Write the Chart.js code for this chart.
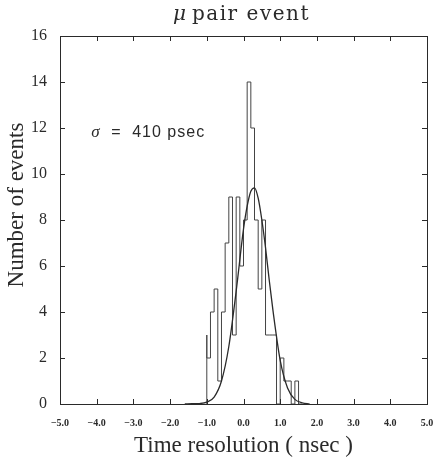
<!DOCTYPE html>
<html>
<head>
<meta charset="utf-8">
<script src="https://cdn.jsdelivr.net/npm/chart.js@4.4.1/dist/chart.umd.min.js"></script>
<style>
  html, body { margin: 0; padding: 0; background: #ffffff; }
  canvas { display: block; }
</style>
</head>
<body>
<canvas id="c" width="433" height="460"></canvas>
<script>
// ---- data ----
// left edges of the 0.1 ns histogram bins, and the counts in each bin
const binLeftEdges = [-1.0,-0.9,-0.8,-0.7,-0.6,-0.5,-0.4,-0.3,-0.2,-0.1,
                      0.0,0.1,0.2,0.3,0.4,0.5,0.6,0.7,0.8,0.9,
                      1.0,1.1,1.2,1.3,1.4,1.5];
const binWidth = 0.1;
const counts = [3,2,4,5,1,4,7,9,3,9,
                6,8,14,12,8,5,8,3,3,3,
                0,2,1,1,0,1];
// fitted gaussian curve
const fitX = [-1.6,-1.4,-1.2,-1.0,-0.8,-0.6,-0.4,-0.2,0.0,0.1,0.2,0.3,0.4,0.5,0.6,0.7,0.8,1.0,1.2,1.4,1.6,1.8];
const fitY = [0,0.01,0.02,0.08,0.3,1.0,2.5,4.9,7.6,8.6,9.25,9.4,8.95,8.0,6.8,5.4,4.1,1.9,0.7,0.2,0.05,0];
const xTickValues = [-5,-4,-3,-2,-1,0,1,2,3,4,5];
const yTickValues = [0,2,4,6,8,10,12,14,16];
const titleGreek = 'μ';
const titleText = 'pair event';
const xTitle = 'Time resolution ( nsec )';
const yTitle = 'Number of events';
const noteGreek = 'σ';
const noteEq = '=';
const noteValue = '410 psec';

const INK = '#2a2a2a';

// histogram outline built from the bin arrays
const histPoints = [{ x: binLeftEdges[0], y: 0 }];
binLeftEdges.forEach((e, i) => histPoints.push({ x: e, y: counts[i] }));
histPoints.push({ x: binLeftEdges[binLeftEdges.length - 1] + binWidth, y: 0 });

const decorPlugin = {
  id: 'decor',
  afterDatasetsDraw(chart) {
    const ctx = chart.ctx;
    const a = chart.chartArea;
    const xs = chart.scales.x, ys = chart.scales.y;
    ctx.save();
    ctx.strokeStyle = INK;
    ctx.lineWidth = 1;
    ctx.strokeRect(Math.round(a.left) + 0.5, Math.round(a.top) + 0.5,
                   Math.round(a.right - a.left), Math.round(a.bottom - a.top));
    ctx.beginPath();
    xTickValues.forEach(v => {
      const px = Math.round(xs.getPixelForValue(v)) + 0.5;
      ctx.moveTo(px, a.bottom); ctx.lineTo(px, a.bottom - 5);
      ctx.moveTo(px, a.top); ctx.lineTo(px, a.top + 5);
    });
    yTickValues.forEach(v => {
      const py = Math.round(ys.getPixelForValue(v)) + 0.5;
      ctx.moveTo(a.left, py); ctx.lineTo(a.left + 5, py);
      ctx.moveTo(a.right, py); ctx.lineTo(a.right - 5, py);
    });
    ctx.stroke();
    ctx.restore();
  },
  afterDraw(chart) {
    const ctx = chart.ctx;
    const xs = chart.scales.x, ys = chart.scales.y;
    const hasLS = ('letterSpacing' in ctx);
    ctx.save();
    ctx.fillStyle = INK;
    ctx.textBaseline = 'alphabetic';
    // title
    ctx.textAlign = 'left';
    ctx.font = 'italic 20px "DejaVu Serif"';
    ctx.fillText(titleGreek, 173, 20);
    ctx.font = '20px "DejaVu Serif"';
    if (hasLS) ctx.letterSpacing = '1.5px';
    ctx.fillText(titleText, 192, 20);
    if (hasLS) ctx.letterSpacing = '0px';
    // note
    const nx = xs.getPixelForValue(-4.15);
    const ny = ys.getPixelForValue(11.6);
    ctx.font = 'italic 17px "Liberation Serif"';
    ctx.fillText(noteGreek, nx, ny);
    ctx.font = '16px "Liberation Sans"';
    ctx.fillText(noteEq, nx + 20, ny);
    if (hasLS) ctx.letterSpacing = '1px';
    ctx.fillText(noteValue, nx + 41, ny);
    if (hasLS) ctx.letterSpacing = '0px';
    // y title
    ctx.translate(17, 205);
    ctx.rotate(-Math.PI / 2);
    ctx.textAlign = 'center';
    ctx.textBaseline = 'middle';
    ctx.font = '23px "Liberation Serif"';
    ctx.fillText(yTitle, 0, 0);
    ctx.restore();
  }
};

new Chart(document.getElementById('c'), {
  type: 'line',
  data: {
    datasets: [
      {
        data: fitX.map((x, i) => ({ x: x, y: fitY[i] })),
        borderColor: INK,
        borderWidth: 1.3,
        pointRadius: 0,
        cubicInterpolationMode: 'monotone',
        fill: false,
        order: 0
      },
      {
        data: histPoints,
        stepped: 'after',
        borderColor: '#444',
        borderWidth: 1,
        pointRadius: 0,
        fill: false,
        order: 1
      }
    ]
  },
  options: {
    responsive: false,
    animation: false,
    layout: { padding: { left: 0, right: 6, top: 36, bottom: 0 } },
    plugins: {
      legend: { display: false },
      tooltip: { enabled: false },
      title: { display: false }
    },
    scales: {
      x: {
        type: 'linear',
        min: -5, max: 5,
        offset: false,
        grid: { display: false, drawTicks: false },
        border: { display: false },
        afterBuildTicks(s) { s.ticks = xTickValues.map(v => ({ value: v })); },
        ticks: {
          padding: 13,
          maxRotation: 0,
          autoSkip: false,
          color: INK,
          font: { family: 'Liberation Serif', size: 10, weight: 'bold' },
          callback: v => (v < 0 ? '\u2212' : '') + Math.abs(v).toFixed(1)
        },
        title: {
          display: true,
          text: xTitle,
          color: INK,
          font: { family: 'Liberation Serif', size: 23 },
          padding: { top: 0, bottom: 0 }
        },
        afterFit(s) { s.height = 56; s.paddingLeft = 0; s.paddingRight = 0; }
      },
      y: {
        min: 0, max: 16,
        grid: { display: false, drawTicks: false },
        border: { display: false },
        afterBuildTicks(s) { s.ticks = yTickValues.map(v => ({ value: v })); },
        ticks: {
          padding: 13,
          color: INK,
          font: { family: 'Liberation Serif', size: 16 }
        },
        afterFit(s) { s.width = 60; s.paddingTop = 0; s.paddingBottom = 0; }
      }
    }
  },
  plugins: [decorPlugin]
});
</script>
</body>
</html>
